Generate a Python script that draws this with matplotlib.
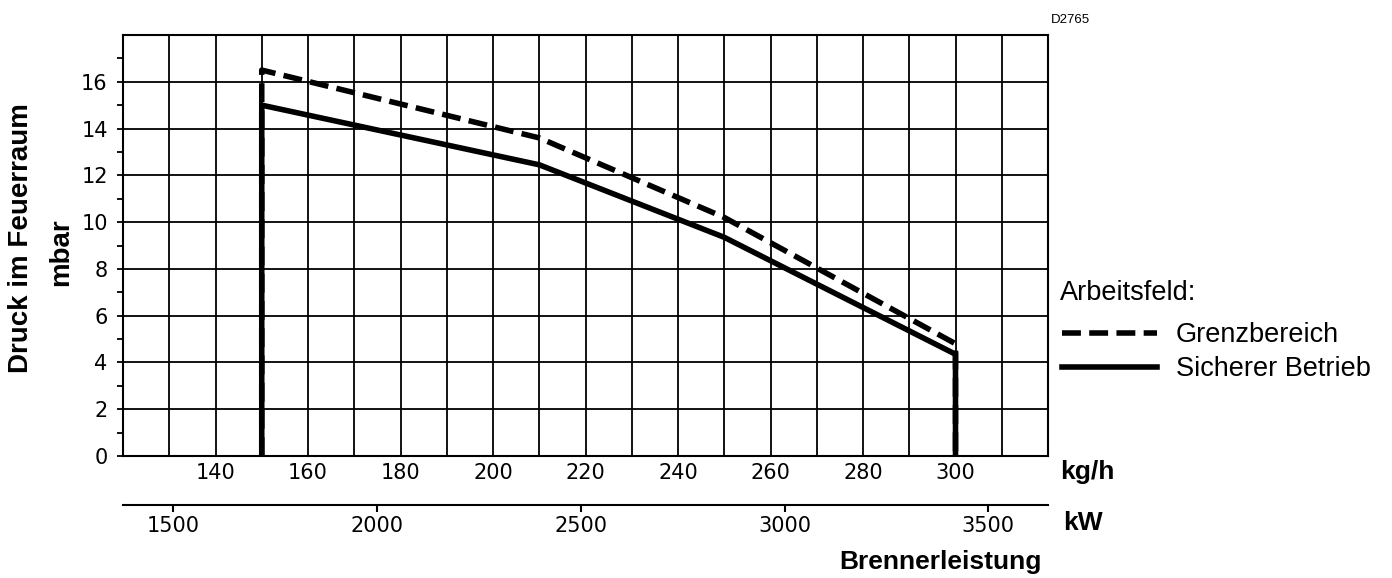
import numpy as np
import matplotlib.pyplot as plt

# Brennerleistung in kg/h, Druck im Feuerraum in mbar
kg_grenz = [150, 150, 210, 250, 300, 300]
mbar_grenz = [0, 16.5, 13.6, 10.2, 4.8, 0]
kg_sicher = [150, 150, 210, 250, 300, 300]
mbar_sicher = [0, 15.0, 12.45, 9.35, 4.35, 0]

kg_ticks = [140, 160, 180, 200, 220, 240, 260, 280, 300]
kw_ticks = [1500, 2000, 2500, 3000, 3500]
mbar_ticks = [0, 2, 4, 6, 8, 10, 12, 14, 16]

W, H = 1392, 578


def fx(x):
    return x / W


def fy(y):
    return 1 - y / H


def kg2kw(kg):
    return 1500 + (np.asarray(kg) - 130.88) * 11.35


def kw2kg(kw):
    return 130.88 + (np.asarray(kw) - 1500) / 11.35


plt.rcParams['font.family'] = ['Liberation Sans', 'DejaVu Sans']

fig = plt.figure(figsize=(W / 100, H / 100), dpi=100)
ax = fig.add_axes([fx(123), fy(456), fx(1048) - fx(123), fy(35) - fy(456)])

ax.set_xlim(120, 320)
ax.set_ylim(0, 18)
ax.set_xticks(kg_ticks)
ax.set_xticks(np.arange(130, 320, 10), minor=True)
ax.set_yticks(mbar_ticks)
ax.set_yticks(np.arange(1, 18, 2), minor=True)
ax.grid(True, axis='x', which='both', color='black', linewidth=1.3)
ax.grid(True, axis='y', which='major', color='black', linewidth=1.3)
ax.set_axisbelow(True)
for s in ax.spines.values():
    s.set_linewidth(1.5)

ax.tick_params(axis='x', which='both', length=0, pad=5, labelsize=15)
ax.tick_params(axis='y', which='both', direction='out', length=4, width=1.3,
               pad=7, labelsize=15)
for lab in ax.get_xticklabels() + ax.get_yticklabels():
    lab.set_family('DejaVu Sans')

ax.plot(kg_grenz, mbar_grenz, color='black', linewidth=4,
        dashes=(3.4, 1.5), solid_capstyle='butt', label='Grenzbereich')
ax.plot(kg_sicher, mbar_sicher, color='black', linewidth=4,
        solid_joinstyle='miter', label='Sicherer Betrieb')

sec = ax.secondary_xaxis(-(505 - 456) / 421, functions=(kg2kw, kw2kg))
sec.set_xticks(kw_ticks)
sec.spines['bottom'].set_linewidth(1.5)
sec.tick_params(axis='x', direction='out', length=5, width=1.5, pad=3, labelsize=15)
for lab in sec.get_xticklabels():
    lab.set_family('DejaVu Sans')

fig.text(fx(1060), fy(293), 'Arbeitsfeld:', fontsize=19.5, va='center', ha='left')
ax.legend(loc='upper left', frameon=False,
          bbox_to_anchor=(fx(1062), fy(322)), bbox_transform=fig.transFigure,
          fontsize=19.5, handlelength=3.5, handletextpad=0.7, labelspacing=0.3,
          borderaxespad=0, borderpad=0)

fig.text(fx(1060), fy(472), 'kg/h', fontsize=19, fontweight='bold', va='center', ha='left')
fig.text(fx(1063), fy(523), 'kW', fontsize=19, fontweight='bold', va='center', ha='left')
fig.text(fx(940), fy(562), 'Brennerleistung', fontsize=19, fontweight='bold',
         va='center', ha='center')
fig.text(fx(21), fy(238), 'Druck im Feuerraum', fontsize=20, fontweight='bold',
         rotation=90, va='center', ha='center')
fig.text(fx(61), fy(252), 'mbar', fontsize=20, fontweight='bold',
         rotation=90, va='center', ha='center')
fig.text(fx(1070), fy(20), 'D2765', fontsize=9.5, va='center', ha='center')

fig.savefig('out.png', dpi=100)
